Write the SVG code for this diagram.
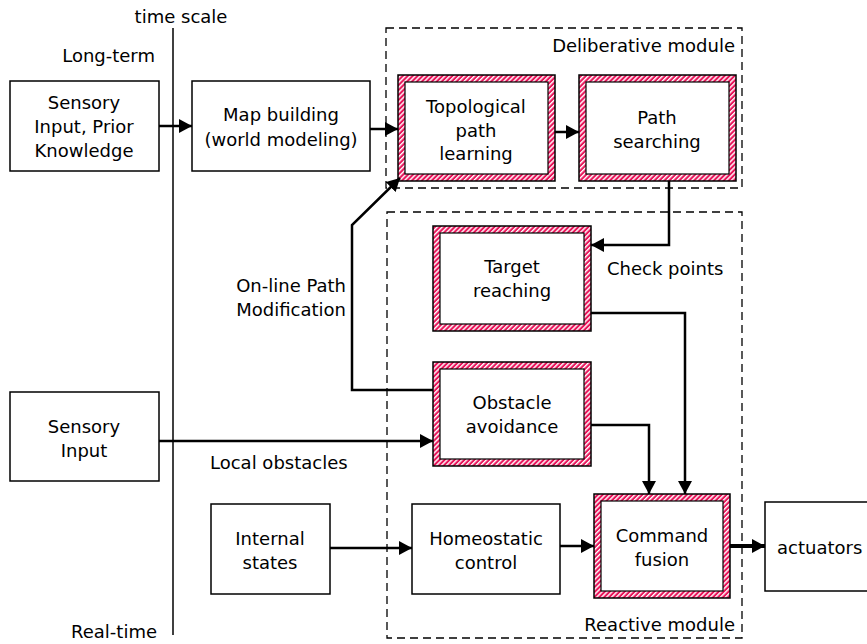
<svg xmlns="http://www.w3.org/2000/svg" width="867" height="644" viewBox="0 0 867 644">
<style>
text{font-family:"DejaVu Sans","Liberation Sans",sans-serif;font-size:18px;fill:#000}
.c{text-anchor:middle}
.e{text-anchor:end}
.box{fill:#fff;stroke:#000;stroke-width:1.5}
.hat{fill:url(#hatch);stroke:#000;stroke-width:1.5}
.inner{fill:#fff;stroke:#000;stroke-width:1.2}
.mod{fill:none;stroke:#000;stroke-width:1.3;stroke-dasharray:8 5}
.ln{fill:none;stroke:#000;stroke-width:2.5}
</style>
<defs>
<pattern id="hatch" width="3.5" height="3.5" patternUnits="userSpaceOnUse" patternTransform="rotate(45)">
<rect width="3.5" height="3.5" fill="#e8145a"/>
<rect width="1.4" height="3.5" fill="#fff"/>
</pattern>
<marker id="ar" markerUnits="userSpaceOnUse" markerWidth="14" markerHeight="14" viewBox="0 0 14 14" refX="13" refY="7" orient="auto">
<path d="M0,0 L13,7 L0,14 Z" fill="#000"/>
</marker>
</defs>
<rect width="867" height="644" fill="#fff"/>

<!-- time scale -->
<g id="timescale">
<line x1="173" y1="28" x2="173" y2="635" stroke="#000" stroke-width="1.5"/>
<text x="181" y="23" class="c">time scale</text>
<text x="155" y="62" class="e">Long-term</text>
<text x="157" y="638" class="e">Real-time</text>
</g>

<!-- modules -->
<g id="deliberative">
<rect x="386" y="28" width="356" height="160" class="mod"/>
<text x="735" y="52" class="e">Deliberative module</text>
</g>
<g id="reactive">
<rect x="387" y="212" width="355" height="426" class="mod"/>
<text x="735" y="631" class="e">Reactive module</text>
</g>

<g id="sensory-prior">
<rect x="10" y="81" width="149" height="90" class="box"/>
<text x="84" y="109" class="c">Sensory</text>
<text x="84" y="133" class="c">Input, Prior</text>
<text x="84" y="157" class="c">Knowledge</text>
</g>
<g id="map-building">
<rect x="192" y="81" width="178" height="90" class="box"/>
<text x="281" y="121" class="c">Map building</text>
<text x="281" y="146" class="c">(world modeling)</text>
</g>
<g id="topological">
<rect x="398" y="75" width="157" height="106" class="hat"/>
<rect x="405" y="82" width="143" height="92" class="inner"/>
<text x="476" y="113" class="c">Topological</text>
<text x="476" y="137" class="c">path</text>
<text x="476" y="160" class="c">learning</text>
</g>
<g id="path-searching">
<rect x="579" y="75" width="157" height="106" class="hat"/>
<rect x="586" y="82" width="143" height="92" class="inner"/>
<text x="657" y="124" class="c">Path</text>
<text x="657" y="148" class="c">searching</text>
</g>
<g id="target-reaching">
<rect x="433" y="226" width="158" height="105" class="hat"/>
<rect x="440" y="233" width="144" height="91" class="inner"/>
<text x="512" y="273" class="c">Target</text>
<text x="512" y="297" class="c">reaching</text>
</g>
<g id="obstacle-avoidance">
<rect x="433" y="362" width="158" height="104" class="hat"/>
<rect x="440" y="369" width="144" height="90" class="inner"/>
<text x="512" y="409" class="c">Obstacle</text>
<text x="512" y="433" class="c">avoidance</text>
</g>
<g id="sensory-input">
<rect x="10" y="392" width="149" height="89" class="box"/>
<text x="84" y="433" class="c">Sensory</text>
<text x="84" y="457" class="c">Input</text>
</g>
<g id="internal-states">
<rect x="211" y="504" width="119" height="90" class="box"/>
<text x="270" y="545" class="c">Internal</text>
<text x="270" y="569" class="c">states</text>
</g>
<g id="homeostatic">
<rect x="412" y="504" width="148" height="90" class="box"/>
<text x="486" y="545" class="c">Homeostatic</text>
<text x="486" y="569" class="c">control</text>
</g>
<g id="command-fusion">
<rect x="594" y="494" width="136" height="104" class="hat"/>
<rect x="601" y="501" width="122" height="90" class="inner"/>
<text x="662" y="542" class="c">Command</text>
<text x="662" y="566" class="c">fusion</text>
</g>
<g id="actuators">
<rect x="765" y="502" width="110" height="89" class="box"/>
<text x="777" y="554">actuators</text>
</g>

<g id="connectors">
<line x1="159" y1="126" x2="192" y2="126" class="ln" marker-end="url(#ar)"/>
<line x1="370" y1="129" x2="398" y2="129" class="ln" marker-end="url(#ar)"/>
<line x1="555" y1="132" x2="579" y2="132" class="ln" marker-end="url(#ar)"/>
<polyline points="669,181 669,245 591,245" class="ln" marker-end="url(#ar)"/>
<polyline points="591,313 685,313 685,494" class="ln" marker-end="url(#ar)"/>
<polyline points="591,425 649,425 649,494" class="ln" marker-end="url(#ar)"/>
<polyline points="433,390 352,390 352,225 400,178" class="ln" marker-end="url(#ar)"/>
<line x1="159" y1="441" x2="433" y2="441" class="ln" marker-end="url(#ar)"/>
<line x1="330" y1="548" x2="412" y2="548" class="ln" marker-end="url(#ar)"/>
<line x1="560" y1="546" x2="594" y2="546" class="ln" marker-end="url(#ar)"/>
<line x1="730" y1="546" x2="765" y2="546" stroke="#000" stroke-width="4" marker-end="url(#ar)"/>
<text x="607" y="275">Check points</text>
<text x="346" y="292" class="e">On-line Path</text>
<text x="346" y="316" class="e">Modification</text>
<text x="210" y="469">Local obstacles</text>
</g>
</svg>
